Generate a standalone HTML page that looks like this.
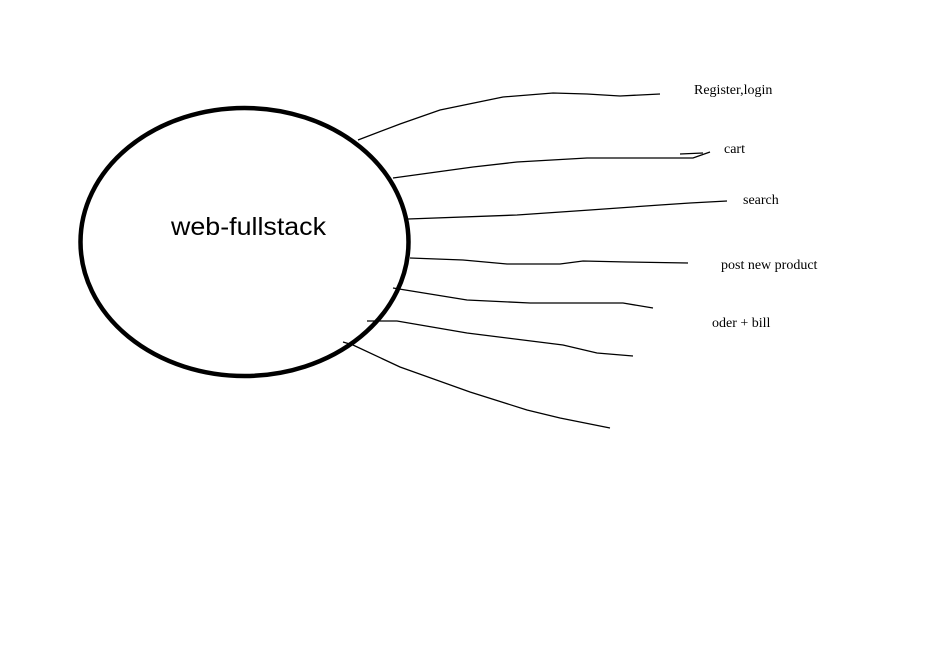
<!DOCTYPE html>
<html><head><style>body{margin:0;background:#fff}svg{display:block}</style></head><body>
<svg width="935" height="648" viewBox="0 0 935 648" xmlns="http://www.w3.org/2000/svg">
<rect width="935" height="648" fill="#fff"/>
<ellipse cx="244.5" cy="242" rx="164" ry="134" fill="none" stroke="#000" stroke-width="4.5"/>
<g fill="none" stroke="#000" stroke-width="1.3">
<polyline points="358,140 400,124 440,110 503,97 553,93 587,94 620,96 660,94"/>
<polyline points="393,178 473,167 517,162 587,158 693,158 710,152"/>
<polyline points="680,154 703,153"/>
<polyline points="408,219 517,215 590,210 660,205 690,203 727,201"/>
<polyline points="410,258 463,260 507,264 560,264 583,261 627,262 688,263"/>
<polyline points="393,288 467,300 530,303 623,303 653,308"/>
<polyline points="367,321 397,321 467,333 563,345 597,353 633,356"/>
<polyline points="343,342 353,345 400,367 470,392 527,410 560,418 610,428"/>
</g>
<text x="171" y="235" font-family="Liberation Sans, sans-serif" font-size="25" textLength="155" lengthAdjust="spacingAndGlyphs">web-fullstack</text>
<g font-family="Liberation Serif, serif" font-size="14">
<text x="694" y="94">Register,login</text>
<text x="724" y="153">cart</text>
<text x="743" y="204">search</text>
<text x="721" y="269">post new product</text>
<text x="712" y="327">oder + bill</text>
</g>
</svg>
</body></html>
